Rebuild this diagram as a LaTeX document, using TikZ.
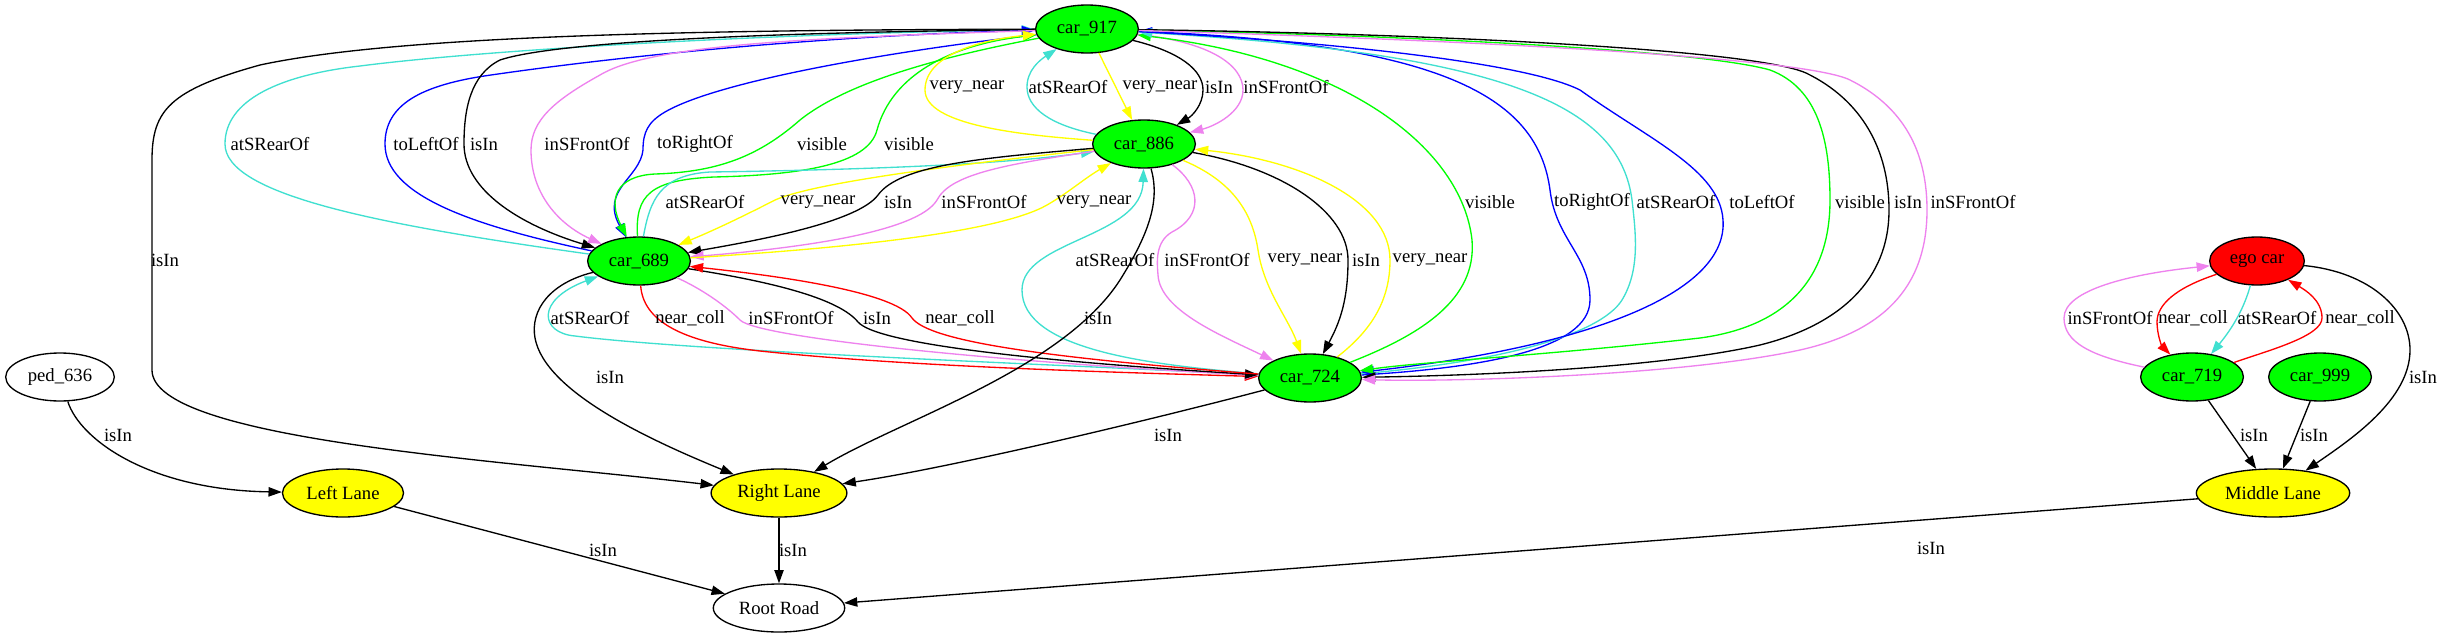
\documentclass[tikz,border=0pt]{standalone}
\usepackage{fontspec}
\setmainfont{Liberation Serif}
\usetikzlibrary{shapes.geometric,arrows.meta}
\definecolor{gvgreen}{HTML}{00FF00}
\definecolor{gvyellow}{HTML}{FFFF00}
\definecolor{gvred}{HTML}{FF0000}
\definecolor{gvblue}{HTML}{0000FF}
\definecolor{gvturq}{HTML}{40E0D0}
\definecolor{gvviolet}{HTML}{EE82EE}
\begin{document}
\begin{tikzpicture}[x=0.75pt,y=-0.75pt]
  \fill[white] (0,0) rectangle (2441,639);
  \useasboundingbox (0,0) rectangle (2441,639);
  \begin{scope}[
    every node/.style={draw,ellipse,line width=1pt,inner xsep=4.7pt,inner ysep=0pt,
      minimum width=54pt,minimum height=36pt,font=\fontsize{14}{16}\selectfont},
    car/.style={fill=gvgreen},
    lane/.style={fill=gvyellow},
    ]
    \node[car] (c917) at (1087,29) {car\_917};
    \node[car] (c886) at (1144,144) {car\_886};
    \node[car] (c689) at (639,261) {car\_689};
    \node[car] (c724) at (1310,378) {car\_724};
    \node[fill=gvred] (ego) at (2257,261) {ego car};
    \node[car] (c719) at (2192,377) {car\_719};
    \node[car] (c999) at (2320,377) {car\_999};
    \node (ped) at (60,377) {ped\_636};
    \node[lane] (leftlane) at (343,493) {Left Lane};
    \node[lane] (rightlane) at (779,493) {Right Lane};
    \node[lane] (midlane) at (2273,493) {Middle Lane};
    \node (root) at (779,608) {Root Road};
  \end{scope}
  \begin{scope}[
    every path/.style={draw,line width=1pt,-{Triangle[length=10pt,width=7pt]}},
    lbl/.style={inner sep=0pt,text=black,font=\fontsize{14}{16}\selectfont},
    ]
    % car_917 and car_689
    \path (c917) .. controls (700,30) and (400,35) .. (260,65)
      .. controls (170,90) and (152,110) .. (152,160)
      node[lbl] (l1) at (165,260) {isIn}
      -- (152,370) .. controls (152,440) and (500,460) .. (rightlane);
    \path[draw=gvturq] (c689) .. controls (380,225) and (225,195) .. (225,144)
      node[lbl] (l2) at (270,144) {atSRearOf}
      .. controls (225,100) and (280,75) .. (360,66)
      .. controls (500,48) and (800,33) .. (c917);
    \path[draw=gvblue] (c689) .. controls (470,225) and (385,195) .. (385,144)
      node[lbl] (l3) at (426,144) {toLeftOf}
      .. controls (385,105) and (420,85) .. (491,75)
      .. controls (650,52) and (850,35) .. (c917);
    \path (c917) .. controls (800,32) and (560,40) .. (500,60)
      .. controls (470,75) and (464,110) .. (464,144)
      node[lbl] (l4) at (484,144) {isIn}
      .. controls (464,190) and (520,225) .. (c689);
    \path[draw=gvviolet] (c917) .. controls (800,38) and (650,45) .. (600,75)
      .. controls (555,100) and (531,120) .. (531,150)
      node[lbl] (l5) at (587,144) {inSFrontOf}
      .. controls (531,195) and (560,225) .. (c689);
    \path[draw=gvblue] (c917) .. controls (900,50) and (720,80) .. (665,112)
      .. controls (648,122) and (643,132) .. (643,150)
      node[lbl] (l6) at (695,144) {toRightOf}
      .. controls (640,178) and (600,190) .. (c689);
    \path[draw=gvgreen] (c917) .. controls (950,55) and (850,80) .. (800,120)
      node[lbl] (l7) at (822,144) {visible}
      .. controls (760,155) and (720,172) .. (655,174)
      .. controls (615,176) and (608,200) .. (c689);
    \path[draw=gvgreen] (c689) .. controls (635,195) and (650,180) .. (714,177)
      .. controls (800,175) and (868,165) .. (877,130)
      node[lbl] (l8) at (909,144) {visible}
      .. controls (892,75) and (950,45) .. (c917);
    % car_886 and car_689
    \path[draw=gvturq] (c689) .. controls (650,200) and (660,175) .. (710,172)
      node[lbl] (l9) at (705,202) {atSRearOf}
      .. controls (850,170) and (1000,165) .. (c886);
    \path[draw=gvyellow] (c886) .. controls (1000,160) and (820,180) .. (775,200)
      node[lbl] (l10) at (818,202) {very\_near}
      .. controls (740,218) and (710,232) .. (c689);
    \path (c886) .. controls (980,158) and (900,165) .. (878,195)
      node[lbl] (l11) at (898,202) {isIn}
      .. controls (858,222) and (760,240) .. (c689);
    \path[draw=gvviolet] (c886) .. controls (1000,165) and (950,175) .. (937,200)
      node[lbl] (l12) at (984,202) {inSFrontOf}
      .. controls (918,232) and (800,248) .. (c689);
    \path[draw=gvyellow] (c689) .. controls (850,248) and (1000,232) .. (1047,205)
      node[lbl] (l13) at (1094,202) {very\_near}
      .. controls (1068,193) and (1085,178) .. (c886);
    % car_917 and car_886
    \path[draw=gvyellow] (c886) .. controls (1020,135) and (925,125) .. (925,90)
      node[lbl] (l14) at (967,87) {very\_near}
      .. controls (925,55) and (980,40) .. (c917);
    \path[draw=gvturq] (c886) .. controls (1050,125) and (1027,108) .. (1027,87)
      node[lbl] (l15) at (1068,87) {atSRearOf}
      .. controls (1027,70) and (1040,60) .. (c917);
    \path[draw=gvyellow] (c917) -- (c886)
      node[lbl] (l16) at (1160,87) {very\_near};
    \path (c917) .. controls (1180,52) and (1203,70) .. (1203,90)
      node[lbl] (l17) at (1219,87) {isIn}
      .. controls (1203,105) and (1192,116) .. (c886);
    \path[draw=gvviolet] (c917) .. controls (1210,42) and (1243,65) .. (1243,90)
      node[lbl] (l18) at (1286,87) {inSFrontOf}
      .. controls (1243,112) and (1215,126) .. (c886);
    % car_886 and car_724
    \path[draw=gvturq] (c724) .. controls (1150,365) and (1022,350) .. (1022,290)
      node[lbl] (l19) at (1115,260) {atSRearOf}
      .. controls (1022,240) and (1142,238) .. (c886);
    \path[draw=gvviolet] (c886) .. controls (1200,185) and (1205,215) .. (1172,232)
      .. controls (1155,242) and (1157,262) .. (1158,275)
      node[lbl] (l20) at (1207,260) {inSFrontOf}
      .. controls (1160,310) and (1220,335) .. (c724);
    \path[draw=gvyellow] (c886) .. controls (1230,180) and (1252,210) .. (1258,250)
      node[lbl] (l21) at (1305,260) {very\_near}
      .. controls (1264,290) and (1288,318) .. (c724);
    \path (c886) .. controls (1282,168) and (1348,212) .. (1348,260)
      node[lbl] (l22) at (1366,260) {isIn}
      .. controls (1348,300) and (1340,322) .. (c724);
    \path[draw=gvyellow] (c724) .. controls (1372,330) and (1390,300) .. (1390,260)
      node[lbl] (l23) at (1430,260) {very\_near}
      .. controls (1390,200) and (1300,160) .. (c886);
    % car_917 and car_724
    \path[draw=gvgreen] (c724) .. controls (1420,335) and (1477,300) .. (1472,240)
      node[lbl] (l24) at (1490,202) {visible}
      .. controls (1462,150) and (1350,60) .. (c917);
    \path[draw=gvblue] (c724) .. controls (1480,368) and (1590,350) .. (1590,300)
      .. controls (1590,255) and (1556,240) .. (1550,190)
      node[lbl] (l25) at (1592,202) {toRightOf}
      .. controls (1538,100) and (1450,45) .. (c917);
    \path[draw=gvturq] (c724) .. controls (1500,362) and (1600,335) .. (1622,300)
      .. controls (1640,270) and (1636,235) .. (1632,200)
      node[lbl] (l26) at (1676,202) {atSRearOf}
      .. controls (1620,110) and (1520,55) .. (c917);
    \path[draw=gvblue] (c917) .. controls (1300,40) and (1520,60) .. (1580,90)
      .. controls (1650,140) and (1720,170) .. (1723,220)
      node[lbl] (l27) at (1762,202) {toLeftOf}
      .. controls (1728,290) and (1600,345) .. (c724);
    \path[draw=gvgreen] (c917) .. controls (1400,35) and (1700,50) .. (1770,70)
      .. controls (1818,88) and (1830,140) .. (1830,200)
      node[lbl] (l28) at (1860,202) {visible}
      .. controls (1830,300) and (1760,330) .. (1700,338)
      .. controls (1550,355) and (1420,362) .. (c724);
    \path (c917) .. controls (1400,33) and (1750,48) .. (1806,73)
      .. controls (1862,100) and (1889,150) .. (1889,210)
      node[lbl] (l29) at (1908,202) {isIn}
      .. controls (1889,280) and (1840,325) .. (1760,345)
      .. controls (1650,370) and (1450,376) .. (c724);
    \path[draw=gvviolet] (c917) .. controls (1400,38) and (1800,55) .. (1850,80)
      .. controls (1910,110) and (1927,160) .. (1927,210)
      node[lbl] (l30) at (1973,202) {inSFrontOf}
      .. controls (1927,290) and (1880,332) .. (1800,350)
      .. controls (1680,376) and (1450,382) .. (c724);
    % car_689 and car_724
    \path[draw=gvturq] (c724) .. controls (1100,366) and (700,352) .. (575,336)
      .. controls (540,333) and (535,300) .. (c689)
      node[lbl] (l31) at (590,318) {atSRearOf};
    \path[draw=gvred] (c689) .. controls (643,320) and (680,342) .. (760,351)
      node[lbl] (l32) at (690,318) {near\_coll}
      .. controls (900,366) and (1100,372) .. (c724);
    \path[draw=gvviolet] (c689) .. controls (700,288) and (725,305) .. (740,320)
      node[lbl] (l33) at (791,318) {inSFrontOf}
      .. controls (758,338) and (1000,362) .. (c724);
    \path (c689) .. controls (780,283) and (840,300) .. (858,322)
      node[lbl] (l34) at (877,318) {isIn}
      .. controls (878,345) and (1050,362) .. (c724);
    \path[draw=gvred] (c724) .. controls (1050,358) and (930,342) .. (912,318)
      node[lbl] (l35) at (960,318) {near\_coll}
      .. controls (895,292) and (780,276) .. (c689);
    % lanes and road
    \path (c689) .. controls (550,283) and (530,310) .. (535,338)
      .. controls (545,392) and (650,440) .. (rightlane)
      node[lbl] (l36) at (610,377) {isIn};
    \path (c886) .. controls (1160,200) and (1150,232) .. (1120,280)
      node[lbl] (l37) at (1098,318) {isIn}
      .. controls (1062,370) and (900,420) .. (rightlane);
    \path (c724) .. controls (1150,420) and (950,468) .. (rightlane)
      node[lbl] (l38) at (1168,435) {isIn};
    \path (ped) .. controls (80,440) and (150,490) .. (leftlane)
      node[lbl] (l39) at (118,435) {isIn};
    \path (leftlane) -- (root) node[lbl] (l40) at (603,550) {isIn};
    \path (rightlane) -- (root) node[lbl] (l41) at (793,550) {isIn};
    \path (midlane) -- (root) node[lbl] (l42) at (1931,548) {isIn};
    % ego car group
    \path[draw=gvviolet] (c719) .. controls (2090,356) and (2064,342) .. (2064,318)
      node[lbl] (l43) at (2110,318) {inSFrontOf}
      .. controls (2064,290) and (2130,274) .. (ego);
    \path[draw=gvred] (ego) .. controls (2175,288) and (2157,305) .. (2157,322)
      node[lbl] (l44) at (2193,318) {near\_coll}
      .. controls (2157,335) and (2162,346) .. (c719);
    \path[draw=gvturq] (ego) .. controls (2245,305) and (2235,325) .. (c719)
      node[lbl] (l45) at (2277,318) {atSRearOf};
    \path[draw=gvred] (c719) .. controls (2270,350) and (2322,336) .. (2322,318)
      node[lbl] (l46) at (2360,318) {near\_coll}
      .. controls (2322,300) and (2305,290) .. (ego);
    \path (ego) .. controls (2370,272) and (2410,310) .. (2410,350)
      .. controls (2410,400) and (2350,440) .. (midlane)
      node[lbl] (l47) at (2423,377) {isIn};
    \path (c719) -- (midlane) node[lbl] (l48) at (2254,435) {isIn};
    \path (c999) -- (midlane) node[lbl] (l49) at (2314,435) {isIn};
  \end{scope}
\end{tikzpicture}
\end{document}
